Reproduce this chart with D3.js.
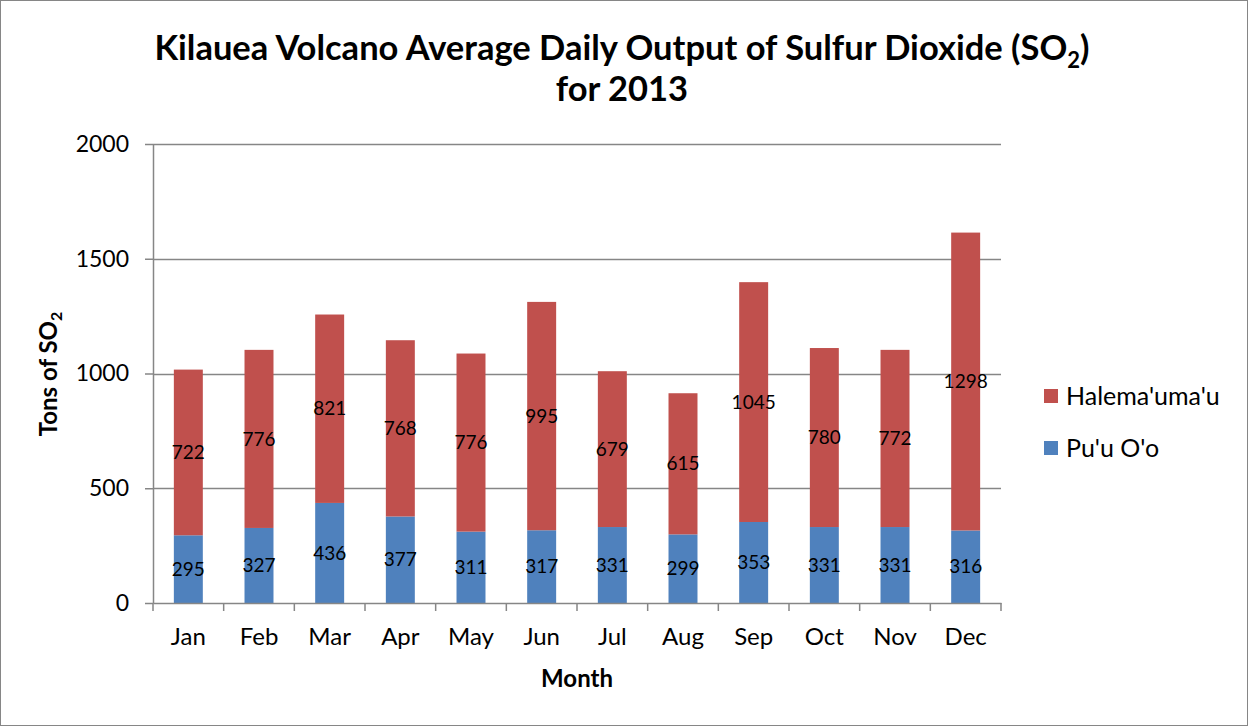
<!DOCTYPE html>
<html>
<head>
<meta charset="utf-8">
<script src="https://cdn.jsdelivr.net/npm/d3@7"></script>
<style>
    body { margin: 0; background: #fff; }
    svg { display: block; }
    svg text { font-family: Lato, "Open Sans", sans-serif; fill: #000; }
    .y-axis .tick text { font-size: 23px; }
    .x-axis .tick text { font-size: 24px; }
    .title { font-size: 34.5px; font-weight: bold; }
    .axis-title { font-size: 24px; font-weight: bold; }
    .value-label { font-size: 19px; }
    .legend text { font-size: 25px; }
</style>
</head>
<body>
<div id="chart"></div>
<script>
    // Data
const months = ["Jan", "Feb", "Mar", "Apr", "May", "Jun", "Jul", "Aug", "Sep", "Oct", "Nov", "Dec"];
const puuOo = [295, 327, 436, 377, 311, 317, 331, 299, 353, 331, 331, 316];
const halemaumau = [722, 776, 821, 768, 776, 995, 679, 615, 1045, 780, 772, 1298];
const yTicks = [0, 500, 1000, 1500, 2000];

    // Series, bottom to top
const series = [
    { key: "puu", label: "Pu'u O'o", color: "#4F81BD", values: puuOo },
    { key: "hale", label: "Halema'uma'u", color: "#C0504D", values: halemaumau }
];

const width = 1249;
const height = 727;
const margin = { top: 144, right: 248, bottom: 124, left: 153 };
const innerWidth = width - margin.left - margin.right;
const innerHeight = height - margin.top - margin.bottom;

const svg = d3.select("#chart")
    .append("svg")
    .attr("width", width)
    .attr("height", height);

    // Outer chart border
svg.append("rect")
    .attr("x", 0.5).attr("y", 0.5)
    .attr("width", width - 2).attr("height", height - 2)
    .attr("fill", "#fff")
    .attr("stroke", "#868686");

const chart = svg.append("g")
    .attr("transform", `translate(${margin.left}, ${margin.top})`);

    // Wide table for d3.stack
const table = months.map((m, i) => {
    const row = { month: m };
    series.forEach(s => { row[s.key] = s.values[i]; });
    return row;
});

const stacked = d3.stack().keys(series.map(s => s.key))(table);

const x = d3.scaleBand()
    .domain(months)
    .range([0, innerWidth])
    .paddingInner(0.59)
    .paddingOuter(0.295);

const xOuter = d3.scaleBand().domain(months).range([0, innerWidth]);

const y = d3.scaleLinear()
    .domain([0, 2000])
    .range([innerHeight, 0]);

    // Gridlines
chart.append("g")
    .selectAll("line")
    .data(yTicks.filter(d => d > 0))
    .join("line")
    .attr("x1", 0).attr("x2", innerWidth)
    .attr("y1", d => Math.round(y(d)) + 0.5)
    .attr("y2", d => Math.round(y(d)) + 0.5)
    .attr("stroke", "#868686")
    .attr("stroke-width", 1.5);

    // Bars
const color = d3.scaleOrdinal().domain(series.map(s => s.key)).range(series.map(s => s.color));

const layers = chart.selectAll(".layer")
    .data(stacked)
    .join("g")
    .attr("class", "layer")
    .attr("fill", d => color(d.key));

layers.selectAll("rect")
    .data(d => d)
    .join("rect")
    .attr("x", d => x(d.data.month))
    .attr("width", x.bandwidth())
    .attr("y", d => y(d[1]))
    .attr("height", d => y(d[0]) - y(d[1]));

    // Value labels centred in each segment
chart.append("g")
    .selectAll("text")
    .data(stacked.flatMap(layer => layer.map(v => ({ v, key: layer.key }))))
    .join("text")
    .attr("class", "value-label")
    .attr("x", d => x(d.v.data.month) + x.bandwidth() / 2)
    .attr("y", d => y((d.v[0] + d.v[1]) / 2))
    .attr("dy", "0.35em")
    .attr("text-anchor", "middle")
    .text(d => d.v.data[d.key]);

    // Y axis
const yAxis = chart.append("g")
    .attr("class", "y-axis")
    .call(d3.axisLeft(y).tickValues(yTicks).tickFormat(d3.format("d"))
        .tickSize(8).tickPadding(16).tickSizeOuter(0));
yAxis.selectAll("line, path").attr("stroke", "#868686").attr("stroke-width", 1.5);

    // X axis with tick marks between categories
const xAxis = chart.append("g")
    .attr("class", "x-axis")
    .attr("transform", `translate(0, ${innerHeight})`)
    .call(d3.axisBottom(x).tickSize(0).tickPadding(25).tickSizeOuter(0));
xAxis.select("path").attr("stroke", "#868686").attr("stroke-width", 1.5);
xAxis.append("g")
    .selectAll("line")
    .data(months.map(m => xOuter(m)).concat([innerWidth]))
    .join("line")
    .attr("x1", d => d).attr("x2", d => d)
    .attr("y1", 0).attr("y2", 8)
    .attr("stroke", "#868686")
    .attr("stroke-width", 1.5);

    // Title
const title = svg.append("text")
    .attr("class", "title")
    .attr("text-anchor", "middle")
    .attr("x", 622)
    .attr("y", 60);
title.append("tspan").text("Kilauea Volcano Average Daily Output of Sulfur Dioxide (SO");
title.append("tspan").attr("dy", 8).style("font-size", "22px").text("2");
title.append("tspan").attr("dy", -8).text(")");

svg.append("text")
    .attr("class", "title")
    .attr("text-anchor", "middle")
    .attr("x", 622)
    .attr("y", 101)
    .text("for 2013");

    // Axis titles
svg.append("text")
    .attr("class", "axis-title")
    .attr("text-anchor", "middle")
    .attr("x", 577)
    .attr("y", 687)
    .text("Month");

const yTitle = svg.append("text")
    .attr("class", "axis-title")
    .attr("text-anchor", "middle")
    .attr("transform", "translate(57, 374) rotate(-90)");
yTitle.append("tspan").text("Tons of SO");
yTitle.append("tspan").attr("dy", 5).style("font-size", "16px").text("2");

    // Legend, top series first
const legend = svg.append("g")
    .attr("class", "legend")
    .attr("transform", "translate(1044, 389)");

const items = legend.selectAll("g")
    .data(series.slice().reverse())
    .join("g")
    .attr("transform", (d, i) => `translate(0, ${i * 52})`);

items.append("rect")
    .attr("width", 14).attr("height", 14)
    .attr("fill", d => d.color);

items.append("text")
    .attr("x", 22)
    .attr("y", 7)
    .attr("dy", "0.35em")
    .text(d => d.label);
</script>
</body>
</html>
